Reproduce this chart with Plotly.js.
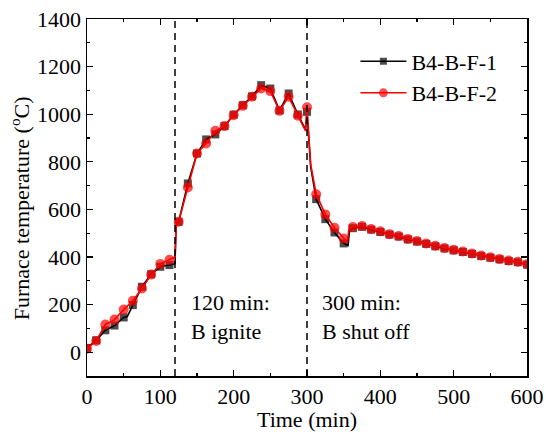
<!DOCTYPE html>
<html>
<head>
<meta charset="utf-8">
<script src="https://cdn.plot.ly/plotly-3.0.1.min.js"></script>
<style>html,body{margin:0;padding:0;background:#fff;}#chart{width:546px;height:432px;}</style>
</head>
<body>
<div id="chart"></div>
<script>
// Series B4-B-F-1 (black squares)
var timeF1 = [0, 12.5, 25, 37.5, 50, 55, 62.5, 75, 87.5, 100, 112.5, 120, 121.5, 125, 137.5, 150, 162.5, 175, 187.5, 200, 212.5, 225, 237.5, 250, 262.5, 275, 287.5, 298, 300, 305, 312.5, 325, 337.5, 350, 356, 358, 362.5, 375, 387.5, 400, 412.5, 425, 437.5, 450, 462.5, 475, 487.5, 500, 512.5, 525, 537.5, 550, 562.5, 575, 587.5, 600];
var tempF1 = [18, 50, 92, 112, 146, 150, 198, 275, 328, 359, 366, 372, 530, 548, 709, 835, 894, 915, 950, 998, 1038, 1075, 1122, 1108, 1016, 1087, 999, 935, 1010, 780, 643, 559, 503, 457, 448, 515, 521, 527, 515, 505, 494, 486, 474, 465, 455, 445, 436, 428, 421, 413, 404, 397, 390, 383, 378, 368];
// Series B4-B-F-2 (red circles)
var timeF2 = [0, 12.5, 25, 37.5, 50, 62.5, 75, 87.5, 100, 112.5, 120, 121.5, 125, 137.5, 150, 162.5, 175, 187.5, 200, 212.5, 225, 237.5, 250, 262.5, 275, 287.5, 298, 300, 305, 312.5, 325, 337.5, 350, 355, 357, 362.5, 375, 387.5, 400, 412.5, 425, 437.5, 450, 462.5, 475, 487.5, 500, 512.5, 525, 537.5, 550, 562.5, 575, 587.5, 600];
var tempF2 = [15, 47, 116, 137, 179, 216, 268, 326, 371, 388, 400, 530, 548, 692, 835, 877, 930, 950, 996, 1035, 1073, 1108, 1097, 1014, 1073, 994, 930, 1029, 790, 664, 579, 523, 478, 462, 515, 526, 530, 518, 508, 496, 488, 476, 467, 457, 447, 438, 430, 423, 415, 406, 399, 392, 385, 380, 370];
var seriesNames = ['B4-B-F-1', 'B4-B-F-2'];
var xTicks = [0, 100, 200, 300, 400, 500, 600];
var yTicks = [0, 200, 400, 600, 800, 1000, 1200, 1400];
var eventTimes = [120, 300];
var eventLabels = ['120 min:<br>B ignite', '300 min:<br>B shut off'];

var STEP = 12.5;
function markerSizes(times, s) {
  return times.map(function (t) {
    var r = t / STEP;
    return Math.abs(r - Math.round(r)) < 1e-6 ? s : 0;
  });
}

var font = 'Liberation Serif';
var FS = 22;

var traces = [
  {
    x: timeF1, y: tempF1, name: seriesNames[0], type: 'scatter', mode: 'lines+markers',
    line: {color: '#000000', width: 1.6},
    marker: {symbol: 'square', color: '#000000', size: markerSizes(timeF1, 8), line: {width: 0}}
  },
  {
    x: timeF2, y: tempF2, name: seriesNames[1], type: 'scatter', mode: 'lines+markers',
    line: {color: '#ff0000', width: 1.6},
    marker: {symbol: 'circle', color: '#ff0000', size: markerSizes(timeF2, 10), line: {width: 0}}
  }
];

var shapes = eventTimes.map(function (t) {
  return {type: 'line', xref: 'x', yref: 'paper', x0: t, x1: t, y0: 0, y1: 1,
          line: {color: '#000000', width: 1.5, dash: '7px,5px'}};
});

var annotations = [
  {text: eventLabels[0], x: 139, xref: 'x', y: 150, yref: 'y', xanchor: 'left', yanchor: 'middle', align: 'left', showarrow: false, font: {family: font, size: FS, color: '#000'}},
  {text: eventLabels[1], x: 318, xref: 'x', y: 150, yref: 'y', xanchor: 'left', yanchor: 'middle', align: 'left', showarrow: false, font: {family: font, size: FS, color: '#000'}},
  {text: 'Furnace temperature (<sup>o</sup>C)', xref: 'paper', yref: 'paper', x: -0.152, y: 0.47, xanchor: 'center', yanchor: 'middle', textangle: -90, showarrow: false, font: {family: font, size: FS, color: '#000'}}
];

var layout = {
  width: 546, height: 432,
  margin: {l: 87, r: 19, t: 19, b: 56},
  paper_bgcolor: '#ffffff', plot_bgcolor: '#ffffff',
  font: {family: font, size: FS, color: '#000000'},
  showlegend: true,
  legend: {x: 0.61, y: 0.94, xanchor: 'left', yanchor: 'top', bgcolor: 'rgba(0,0,0,0)', font: {family: font, size: FS}, tracegroupgap: 0, itemwidth: 46},
  xaxis: {
    range: [0, 600], tickvals: xTicks, ticktext: xTicks.map(String),
    ticks: 'inside', ticklen: 6, tickwidth: 1.2, tickcolor: '#000',
    minor: {dtick: 50, ticks: 'inside', ticklen: 3, tickwidth: 1.2, tickcolor: '#000'},
    showline: true, linecolor: '#000', linewidth: 1.5, mirror: 'allticks',
    showgrid: false, zeroline: false,
    tickfont: {family: font, size: FS},
    title: {text: 'Time (min)', font: {family: font, size: FS}, standoff: 0}
  },
  yaxis: {
    range: [-100, 1400], tickvals: yTicks, ticktext: yTicks.map(String),
    ticks: 'inside', ticklen: 6, tickwidth: 1.2, tickcolor: '#000',
    minor: {dtick: 100, tick0: 0, ticks: 'inside', ticklen: 3, tickwidth: 1.2, tickcolor: '#000'},
    showline: true, linecolor: '#000', linewidth: 1.5, mirror: 'allticks',
    showgrid: false, zeroline: false,
    tickfont: {family: font, size: FS}
  },
  shapes: shapes,
  annotations: annotations
};

Plotly.newPlot('chart', traces, layout, {displayModeBar: false, staticPlot: true});
</script>
</body>
</html>
